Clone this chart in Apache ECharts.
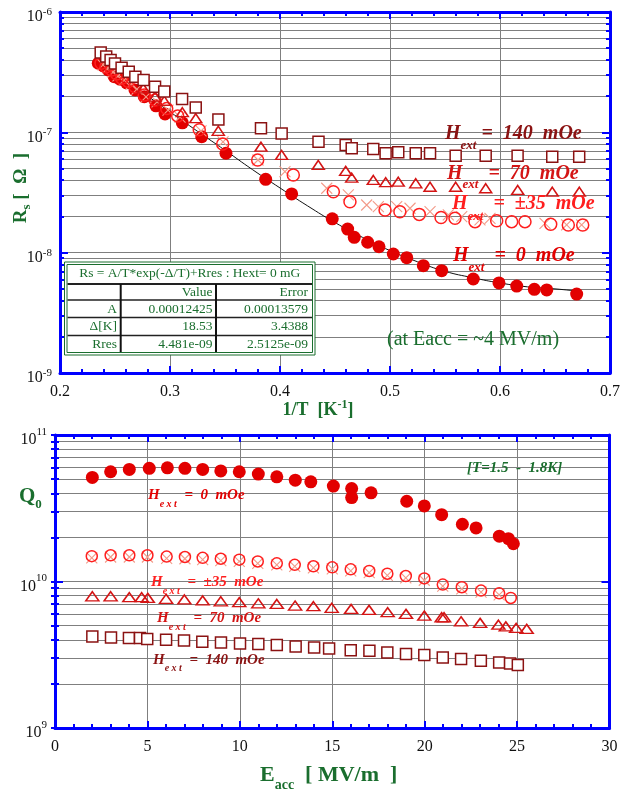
<!DOCTYPE html>
<html><head><meta charset="utf-8">
<script src="https://cdn.jsdelivr.net/npm/echarts@6/dist/echarts.min.js"></script>
<style>html,body{margin:0;padding:0;background:#fff}#c{width:627px;height:790px}</style>
</head><body><div id="c"></div>
<script>
// ---------------- TOP CHART DATA (Rs vs 1/T) ----------------
const top_invT_0   = [0.2348,0.2394,0.2439,0.2494,0.2545,0.2606,0.2682,0.2766,0.2873,0.2955,0.3112,0.3288,0.3509,0.387,0.4106,0.4475,0.4615,0.4675,0.4797,0.49,0.503,0.5152,0.5303,0.547,0.5757,0.5991,0.6152,0.6312,0.6425,0.6697];
const top_rs_0     = [3.75e-7,3.56e-7,3.3e-7,2.9e-7,2.76e-7,2.58e-7,2.25e-7,1.98e-7,1.66e-7,1.42e-7,1.2e-7,9.2e-8,6.7e-8,4.07e-8,3.08e-8,1.91e-8,1.57e-8,1.34e-8,1.22e-8,1.12e-8,9.75e-9,9.08e-9,7.8e-9,7.08e-9,6.04e-9,5.6e-9,5.28e-9,4.96e-9,4.9e-9,4.53e-9];
const top_invT_35  = [0.2373,0.2418,0.247,0.2515,0.2561,0.2621,0.2682,0.2766,0.2864,0.297,0.307,0.3266,0.3479,0.3797,0.4121,0.4485,0.4636,0.4955,0.509,0.5266,0.5464,0.5591,0.5773,0.597,0.6106,0.6227,0.6461,0.6621,0.6752];
const top_rs_35    = [3.75e-7,3.51e-7,3.3e-7,3.05e-7,2.81e-7,2.64e-7,2.39e-7,2.04e-7,1.86e-7,1.58e-7,1.37e-7,1.05e-7,8.0e-8,5.89e-8,4.42e-8,3.21e-8,2.65e-8,2.26e-8,2.19e-8,2.08e-8,1.96e-8,1.93e-8,1.81e-8,1.84e-8,1.81e-8,1.81e-8,1.72e-8,1.7e-8,1.7e-8];
const top_invT_m35 = [0.2391,0.2436,0.2482,0.2527,0.2582,0.2645,0.27,0.2782,0.2882,0.2982,0.3091,0.3282,0.3482,0.38,0.4045,0.4425,0.4621,0.4788,0.4894,0.5061,0.5182,0.5364,0.553,0.5652,0.5818,0.5909,0.6409,0.6606,0.6742];
const top_rs_m35   = [3.63e-7,3.43e-7,3.17e-7,2.94e-7,2.72e-7,2.52e-7,2.29e-7,1.97e-7,1.79e-7,1.53e-7,1.34e-7,1.03e-7,8.32e-8,5.89e-8,4.71e-8,3.43e-8,3.02e-8,2.49e-8,2.41e-8,2.41e-8,2.34e-8,2.19e-8,2.06e-8,1.99e-8,1.87e-8,1.93e-8,1.75e-8,1.7e-8,1.7e-8];
const top_invT_70  = [0.2757,0.2864,0.2948,0.3112,0.3234,0.3439,0.3827,0.4015,0.4348,0.4597,0.4652,0.4848,0.4961,0.5075,0.5234,0.5364,0.5597,0.5870,0.6161,0.6475,0.6721];
const top_rs_70    = [2.32e-7,1.98e-7,1.83e-7,1.47e-7,1.31e-7,1.03e-7,7.6e-8,6.49e-8,5.36e-8,4.78e-8,4.2e-8,4.02e-8,3.85e-8,3.89e-8,3.77e-8,3.53e-8,3.53e-8,3.43e-8,3.32e-8,3.21e-8,3.21e-8];
const top_invT_140 = [0.237,0.242,0.246,0.250,0.256,0.2625,0.2685,0.276,0.2864,0.2948,0.311,0.3234,0.344,0.3827,0.4015,0.435,0.4597,0.4652,0.4848,0.496,0.5075,0.5234,0.5364,0.5597,0.587,0.616,0.6475,0.672];
const top_rs_140   = [4.6e-7,4.26e-7,4.0e-7,3.74e-7,3.44e-7,3.19e-7,2.9e-7,2.72e-7,2.39e-7,2.18e-7,1.89e-7,1.61e-7,1.28e-7,1.08e-7,9.8e-8,8.36e-8,7.85e-8,7.37e-8,7.26e-8,6.69e-8,6.83e-8,6.69e-8,6.69e-8,6.4e-8,6.4e-8,6.4e-8,6.27e-8,6.27e-8];
// fit curve
const fit_invT = [0.235,0.25,0.275,0.3,0.325,0.35,0.375,0.4,0.425,0.45,0.475,0.5,0.525,0.55,0.575,0.6,0.625,0.65,0.67];
const fit_rs   = [3.8e-7,3.07e-7,2.14e-7,1.48e-7,1.02e-7,7.1e-8,4.9e-8,3.45e-8,2.45e-8,1.78e-8,1.34e-8,1.04e-8,8.4e-9,7.0e-9,6.2e-9,5.6e-9,5.2e-9,5.0e-9,4.8e-9];
// fit table
const fitTitle  = 'Rs = A/T*exp(-\u0394/T)+Rres : Hext= 0 mG';
const fitHeader = ['', 'Value', 'Error'];
const fitRows   = [['A','0.00012425','0.00013579'],['\u0394[K]','18.53','3.4388'],['Rres','4.481e-09','2.5125e-09']];

// ---------------- BOTTOM CHART DATA (Q0 vs Eacc) ----------------
const bot_E_0    = [2.02,3.01,4.02,5.10,6.08,7.03,7.99,8.97,9.97,11.0,12.0,13.0,13.84,15.06,16.05,16.05,17.1,19.03,19.98,20.92,22.04,22.78,24.04,24.53,24.8];
const bot_Q_0    = [5.13e10,5.61e10,5.82e10,5.92e10,5.97e10,5.92e10,5.82e10,5.69e10,5.61e10,5.41e10,5.18e10,4.92e10,4.79e10,4.48e10,4.31e10,3.74e10,4.03e10,3.53e10,3.28e10,2.86e10,2.46e10,2.32e10,2.04e10,1.96e10,1.81e10];
const bot_E_35   = [1.99,3.01,4.02,5.0,6.04,7.03,7.99,8.97,9.97,10.97,12.0,12.97,13.98,15.0,16.0,17.0,17.98,18.98,19.98,20.98,22.01,23.05,24.03,24.66];
const bot_Q_35   = [1.49e10,1.51e10,1.51e10,1.51e10,1.48e10,1.47e10,1.45e10,1.43e10,1.41e10,1.37e10,1.33e10,1.30e10,1.27e10,1.25e10,1.21e10,1.18e10,1.13e10,1.09e10,1.05e10,9.53e9,9.14e9,8.67e9,8.3e9,7.72e9];
const bot_E_m35  = [1.99,3.01,4.02,5.0,6.04,7.03,7.99,8.97,9.97,10.97,12.0,12.97,13.98,15.0,16.0,17.0,17.98,18.98,19.98,20.98,22.01,23.05,24.03];
const bot_Q_m35  = [1.45e10,1.47e10,1.47e10,1.47e10,1.44e10,1.43e10,1.41e10,1.39e10,1.37e10,1.33e10,1.30e10,1.27e10,1.24e10,1.22e10,1.18e10,1.15e10,1.10e10,1.06e10,1.02e10,9.3e9,8.9e9,8.45e9,8.1e9];
const bot_E_70   = [2.02,3.01,4.02,4.69,5.02,6.01,7.0,7.99,8.97,9.97,11.0,12.0,12.99,13.98,14.97,16.02,16.99,18.0,18.99,19.98,20.92,21.05,21.97,23.0,23.99,24.39,24.95,25.52];
const bot_Q_70   = [7.93e9,7.93e9,7.81e9,7.81e9,7.73e9,7.62e9,7.54e9,7.42e9,7.33e9,7.22e9,7.10e9,7.03e9,6.85e9,6.78e9,6.61e9,6.5e9,6.4e9,6.17e9,6.01e9,5.85e9,5.7e9,5.7e9,5.35e9,5.22e9,5.07e9,4.94e9,4.82e9,4.75e9];
const bot_E_140  = [2.02,3.03,4.0,4.6,4.99,6.01,6.98,7.97,8.98,10.01,11.0,12.0,13.02,14.02,14.83,16.0,17.01,17.98,18.99,19.98,20.98,21.97,23.04,24.03,24.62,25.04];
const bot_Q_140  = [4.22e9,4.15e9,4.11e9,4.11e9,4.05e9,4.01e9,3.95e9,3.88e9,3.84e9,3.78e9,3.74e9,3.68e9,3.6e9,3.55e9,3.49e9,3.4e9,3.37e9,3.28e9,3.2e9,3.15e9,3.03e9,2.96e9,2.88e9,2.8e9,2.76e9,2.69e9];

// ---------------- STYLE ----------------
const SERIF = '"Liberation Serif","Times New Roman",serif';
const BLUE = '#0000ff', GRIDC = '#7f7f7f', GREEN = '#1a6e2e';
const C0 = '#e20000', C35 = '#ff1e1e', CX = '#f39a88', C70 = '#d41414', C140 = '#8b1212';
const pairs = (xs, ys) => xs.map((x, i) => [x, ys[i]]);
const CROSS = 'path://M0,0L10,10M10,0L0,10';

function xAx(grid, min, max, interval, pos, showLabels, fmt) {
  return {
    type: 'value', gridIndex: grid, min, max, interval, position: pos,
    axisLine: {show: true, onZero: false, lineStyle: {color: BLUE, width: 3}},
    axisTick: {show: true, inside: true, length: 7, lineStyle: {color: BLUE, width: 2}},
    minorTick: {show: true, splitNumber: 5, length: 4, lineStyle: {color: BLUE, width: 2}},
    splitLine: {show: showLabels, lineStyle: {color: GRIDC, width: 1}},
    axisLabel: showLabels ? {show: true, fontFamily: SERIF, fontSize: 16, color: '#111', margin: 11, formatter: fmt} : {show: false}
  };
}
function yLog(grid, min, max, pos, showLabels, supPad) {
  return {
    type: 'log', logBase: 10, gridIndex: grid, min, max, position: pos,
    axisLine: {show: true, onZero: false, lineStyle: {color: BLUE, width: 3}},
    axisTick: {show: true, inside: true, length: 8, lineStyle: {color: BLUE, width: 2}},
    minorTick: {show: false}, splitLine: {show: false},
    axisLabel: showLabels ? {
      show: true, margin: 8,
      formatter: v => '{b|10}{s|' + Math.round(Math.log10(v)) + '}',
      rich: {b: {fontFamily: SERIF, fontSize: 16, color: '#111', padding: [10, 0, 0, 0]},
             s: {fontFamily: SERIF, fontSize: 11, color: '#111', padding: [0, 0, supPad, 0]}}
    } : {show: false}
  };
}
function yMinor(grid, lo, hi, pos, grid_lines) {
  const vals = [];
  for (let e = lo; e < hi; e++) for (let k = 1; k <= 9; k++) vals.push(e + Math.log10(k));
  vals.push(hi);
  return {
    type: 'value', gridIndex: grid, min: lo, max: hi, position: pos,
    axisLine: {show: false},
    axisTick: {show: true, inside: true, length: 4, customValues: vals, lineStyle: {color: BLUE, width: 2}},
    axisLabel: {show: false},
    splitLine: {show: grid_lines, lineStyle: {color: GRIDC, width: 1}}
  };
}
function scat(name, data, xi, yi, symbol, size, color, border, bw, z) {
  return {name, type: 'scatter', data, xAxisIndex: xi, yAxisIndex: yi, symbol, symbolSize: size, z: z || 2,
    itemStyle: {color, borderColor: border, borderWidth: bw, opacity: 1}};
}

// ---------------- GRAPHIC TEXT ----------------
function txt(x, y, text, rich, extra) {
  return {type: 'text', x, y, z: 100, silent: true,
    style: Object.assign({text, rich, align: 'left', verticalAlign: 'middle', textAlign: 'left', textVerticalAlign: 'middle'}, extra || {})};
}
function hLabel(x, y, valueText, color, hSize, subText, subSize, subPad) {
  return txt(x, y, '{h|H}{e|' + subText + '}{v|' + valueText + '}', {
    h: {fontFamily: SERIF, fontSize: hSize, fontWeight: 'bold', fontStyle: 'italic', fill: color, color},
    e: {fontFamily: SERIF, fontSize: subSize, fontWeight: 'bold', fontStyle: 'italic', fill: color, color, padding: [subPad, 0, 0, 0]},
    v: {fontFamily: SERIF, fontSize: hSize, fontWeight: 'bold', fontStyle: 'italic', fill: color, color}
  });
}
const graphics = [];
// axis names
graphics.push(Object.assign(txt(21, 188, '{r|R}{s|s}{t| [  \u03a9  ]}', {
  r: {fontFamily: SERIF, fontSize: 19, fontWeight: 'bold', fill: GREEN},
  s: {fontFamily: SERIF, fontSize: 13, fontWeight: 'bold', fill: GREEN, padding: [12, 0, 0, 0]},
  t: {fontFamily: SERIF, fontSize: 19, fontWeight: 'bold', fill: GREEN}
}, {align: 'center', textAlign: 'center'}), {rotation: Math.PI / 2}));
graphics.push(txt(318, 410, '{t|1/T  [K}{s|-1}{t|]}', {
  t: {fontFamily: SERIF, fontSize: 18, fontWeight: 'bold', fill: GREEN},
  s: {fontFamily: SERIF, fontSize: 12, fontWeight: 'bold', fill: GREEN, padding: [0, 0, 10, 0]}
}, {align: 'center', textAlign: 'center'}));
graphics.push(txt(19, 497, '{q|Q}{s|0}', {
  q: {fontFamily: SERIF, fontSize: 21, fontWeight: 'bold', fill: GREEN},
  s: {fontFamily: SERIF, fontSize: 13, fontWeight: 'bold', fill: GREEN, padding: [16, 0, 0, 0]}
}));
graphics.push(txt(260, 775, '{q|E}{s|acc}{t|  [ MV/m  ]}', {
  q: {fontFamily: SERIF, fontSize: 22, fontWeight: 'bold', fill: GREEN},
  s: {fontFamily: SERIF, fontSize: 14, fontWeight: 'bold', fill: GREEN, padding: [20, 0, 0, 0]},
  t: {fontFamily: SERIF, fontSize: 22, fontWeight: 'bold', fill: GREEN}
}));
// top annotations
graphics.push(hLabel(445, 133.5, ' =  140  mOe', C140, 20, 'ext', 13, 25));
graphics.push(hLabel(447, 173.5, '  =  70  mOe', C70, 20, 'ext', 13, 23));
graphics.push(hLabel(452, 204, '  =  \u00b135  mOe', C35, 20, 'ext', 13, 26));
graphics.push(hLabel(453, 256, '  =  0  mOe', C0, 20, 'ext', 13, 24));
graphics.push(txt(387, 340, '(at Eacc = ~4 MV/m)', null, {fontFamily: SERIF, fontSize: 20, fill: GREEN}));
// bottom annotations
graphics.push(hLabel(148, 495, '  =  0  mOe', C0, 15, 'e x t', 10, 18));
graphics.push(hLabel(151, 582, '  =  \u00b135  mOe', C35, 15, 'e x t', 10, 18));
graphics.push(hLabel(157, 618, '  =  70  mOe', C70, 15, 'e x t', 10, 18));
graphics.push(hLabel(153, 660, '  =  140  mOe', C140, 15, 'e x t', 10, 16));
graphics.push(txt(467, 468, '[T=1.5  -  1.8K]', null, {fontFamily: SERIF, fontSize: 15, fontWeight: 'bold', fontStyle: 'italic', fill: GREEN}));

// fit table
(function () {
  const X0 = 64.5, Y0 = 262, W = 250.5, H = 93;
  graphics.push({type: 'rect', z: 90, silent: true, shape: {x: X0, y: Y0, width: W, height: H}, style: {fill: '#fff', stroke: GREEN, lineWidth: 1}});
  graphics.push({type: 'rect', z: 91, silent: true, shape: {x: X0 + 2.5, y: Y0 + 2.5, width: W - 5, height: H - 5}, style: {fill: 'none', stroke: GREEN, lineWidth: 1}});
  const rowLines = [284, 300, 317.5, 335.5];
  rowLines.forEach((y, i) => graphics.push({type: 'line', z: 92, silent: true, shape: {x1: X0 + 3, y1: y, x2: X0 + W - 3, y2: y}, style: {stroke: '#222', lineWidth: i === 0 ? 2 : 1.3}}));
  [120.7, 216].forEach(x => graphics.push({type: 'line', z: 92, silent: true, shape: {x1: x, y1: 284, x2: x, y2: Y0 + H - 3}, style: {stroke: '#111', lineWidth: 2}}));
  const font = {fontFamily: SERIF, fontSize: 13.5, fill: GREEN};
  graphics.push(txt(X0 + W / 2, 273.5, fitTitle, null, Object.assign({align: 'center', textAlign: 'center'}, font)));
  const colR = [117, 212.5, 308];
  const rowY = [292.3, 309, 326.7, 344];
  [fitHeader].concat(fitRows).forEach((row, r) => row.forEach((cell, c) => {
    if (cell) graphics.push(txt(colR[c], rowY[r], cell, null, Object.assign({align: 'right', textAlign: 'right'}, font)));
  }));
})();

// ---------------- OPTION ----------------
const chart = echarts.init(document.getElementById('c'), null, {renderer: 'canvas'});
const option = {
  animation: false,
  backgroundColor: '#ffffff',
  grid: [
    {left: 60, top: 12, width: 550, height: 361},
    {left: 55, top: 435, width: 554.5, height: 293}
  ],
  xAxis: [
    xAx(0, 0.2, 0.7, 0.1, 'bottom', true, v => v.toFixed(1)),
    xAx(0, 0.2, 0.7, 0.1, 'top', false),
    xAx(1, 0, 30, 5, 'bottom', true, v => String(v)),
    xAx(1, 0, 30, 5, 'top', false)
  ],
  yAxis: [
    yLog(0, 1e-9, 1e-6, 'left', true, 0),
    yMinor(0, -9, -6, 'left', true),
    yLog(0, 1e-9, 1e-6, 'right', false, 0),
    yMinor(0, -9, -6, 'right', false),
    yLog(1, 1e9, 1e11, 'left', true, 6),
    yMinor(1, 9, 11, 'left', true),
    yLog(1, 1e9, 1e11, 'right', false, 6),
    yMinor(1, 9, 11, 'right', false)
  ],
  series: [
    {type: 'line', data: pairs(fit_invT, fit_rs), xAxisIndex: 0, yAxisIndex: 0, smooth: true, showSymbol: false, symbol: 'none',
     lineStyle: {color: '#111', width: 1}, z: 1},
    scat('top0', pairs(top_invT_0, top_rs_0), 0, 0, 'circle', 13, C0, C0, 0),
    scat('topm35', pairs(top_invT_m35, top_rs_m35), 0, 0, CROSS, 11, 'none', CX, 1.1),
    scat('top35', pairs(top_invT_35, top_rs_35), 0, 0, 'circle', 12, 'none', C35, 1.5),
    scat('top70', pairs(top_invT_70, top_rs_70), 0, 0, 'triangle', [12, 9], 'none', C70, 1.5),
    scat('top140', pairs(top_invT_140, top_rs_140), 0, 0, 'rect', 11, '#fff', C140, 1.5),

    scat('bot0', pairs(bot_E_0, bot_Q_0), 2, 4, 'circle', 13, C0, C0, 0),
    scat('botm35', pairs(bot_E_m35, bot_Q_m35), 2, 4, CROSS, 11, 'none', CX, 1.1),
    scat('bot35', pairs(bot_E_35, bot_Q_35), 2, 4, 'circle', 11, 'none', C35, 1.5),
    scat('bot70', pairs(bot_E_70, bot_Q_70), 2, 4, 'triangle', [13, 9], 'none', C70, 1.5),
    scat('bot140', pairs(bot_E_140, bot_Q_140), 2, 4, 'rect', 11, '#fff', C140, 1.5)
  ],
  graphic: {elements: graphics}
};
chart.setOption(option);
</script></body></html>
